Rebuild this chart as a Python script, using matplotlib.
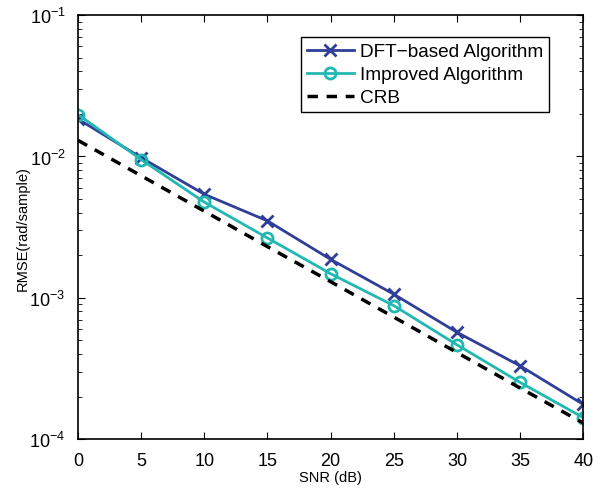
import matplotlib
matplotlib.use('Agg')
import matplotlib.pyplot as plt

plt.rcParams['font.family'] = ['Liberation Sans', 'DejaVu Sans']
plt.rcParams['mathtext.fontset'] = 'custom'
plt.rcParams['mathtext.rm'] = 'Liberation Sans'

snr = [0, 5, 10, 15, 20, 25, 30, 35, 40]
dftRmse = [1.84e-2, 9.8e-3, 5.4e-3, 3.5e-3, 1.87e-3, 1.06e-3, 5.7e-4, 3.3e-4, 1.76e-4]
improvedRmse = [1.98e-2, 9.5e-3, 4.75e-3, 2.65e-3, 1.48e-3, 8.8e-4, 4.65e-4, 2.52e-4, 1.42e-4]
crb = [1.3e-2, 7.3e-3, 4.1e-3, 2.3e-3, 1.3e-3, 7.3e-4, 4.1e-4, 2.3e-4, 1.3e-4]

fig = plt.figure(figsize=(6.05, 4.89), dpi=100)
ax = fig.add_axes([0.129, 0.1, 0.835, 0.867])

ax.semilogy(snr, dftRmse, 'x-', color='#2F3F98', lw=2, ms=9, mew=2, label='DFT\u2212based Algorithm')
ax.semilogy(snr, improvedRmse, 'o-', color='#22B8B2', lw=2, ms=8, mew=2, mfc='none', label='Improved Algorithm')
ax.semilogy(snr, crb, '--', color='black', lw=2.5, dashes=(3, 2.5), label='CRB')

ax.set_xlim(0, 40)
ax.set_ylim(1e-4, 1e-1)
ax.set_xticks(snr)
ax.tick_params(which='both', direction='in', top=True, right=True, labelsize=13)
ax.tick_params(which='major', length=5, pad=9)
ax.tick_params(which='minor', length=3)
ax.set_xlabel('SNR (dB)', fontsize=10.5, labelpad=1)
ax.set_ylabel('RMSE(rad/sample)', fontsize=10.5, labelpad=0)
for s in ax.spines.values():
  s.set_linewidth(1.2)

leg = ax.legend(loc='upper right', bbox_to_anchor=(0.932, 0.948), fontsize=13.7, fancybox=False,
                edgecolor='black', framealpha=1, handlelength=2.5, borderpad=0.3,
                labelspacing=0.3, handletextpad=0.3, borderaxespad=0)
leg.get_frame().set_linewidth(1)

fig.savefig('out.png', dpi=100)
